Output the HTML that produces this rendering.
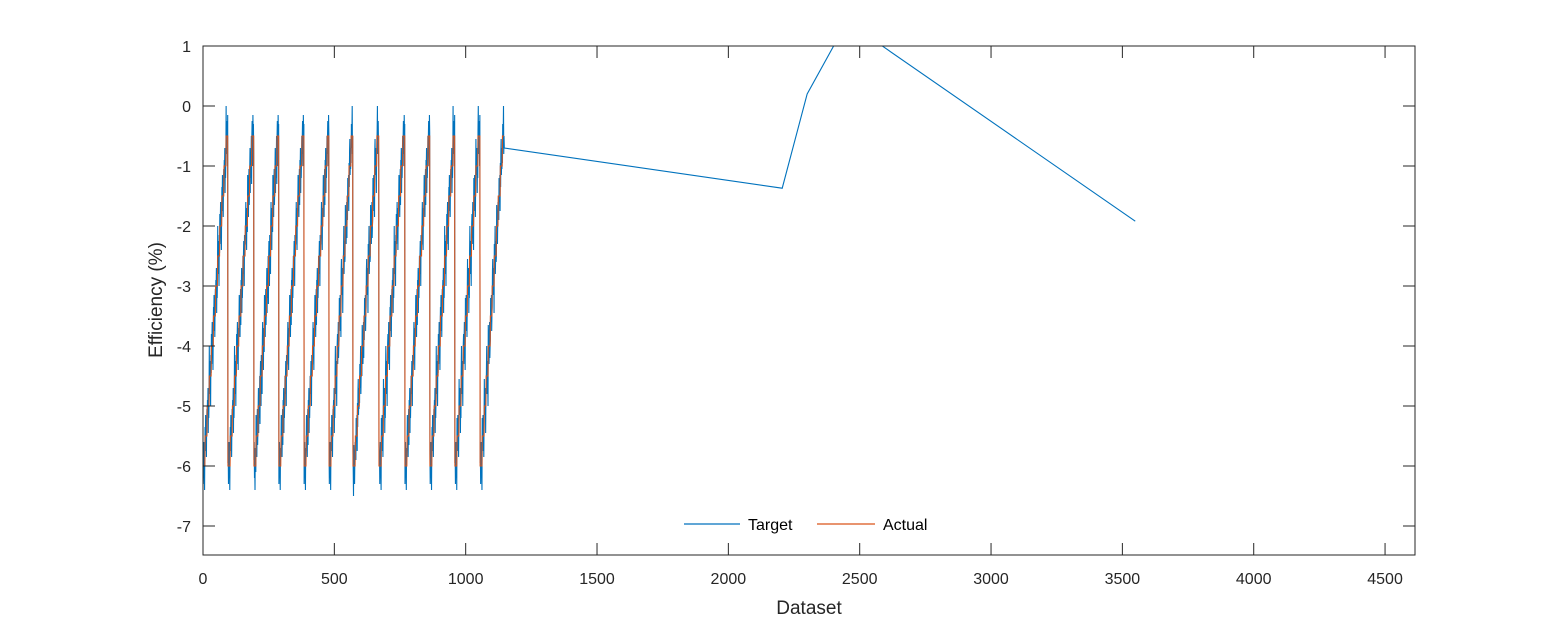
<!DOCTYPE html>
<html><head><meta charset="utf-8"><style>
body{margin:0;background:#fff;}
svg{display:block;font-family:"Liberation Sans",Arial,sans-serif;}
</style></head><body>
<svg id="chart" width="1563" height="625">
<rect x="0" y="0" width="1563" height="625" fill="#fff"/>
<g id="plot"></g>
<rect x="203" y="46" width="1212" height="509" fill="none" stroke="#262626" stroke-width="1"/>
<g id="axes"></g>
<text x="809" y="614" font-size="19" fill="#262626" text-anchor="middle">Dataset</text>
<text transform="translate(162,300) rotate(-90)" font-size="19" fill="#262626" text-anchor="middle">Efficiency (%)</text>
<g>
<line x1="684" y1="524" x2="740" y2="524" stroke="#0072BD" stroke-width="1.2"/>
<text x="748" y="530" font-size="16" fill="#000">Target</text>
<line x1="817" y1="524" x2="875" y2="524" stroke="#D95319" stroke-width="1.2"/>
<text x="883" y="530" font-size="16" fill="#000">Actual</text>
</g>
</svg>
<script>
const xTicks=[0,500,1000,1500,2000,2500,3000,3500,4000,4500];
const yTicks=[1,0,-1,-2,-3,-4,-5,-6,-7];
const cycleStarts=[0,95,194,289,385,480,571,670,769,864,959,1055,1147];
const stepLevels=[-6,-5.5,-5,-4.5,-4,-3.5,-3,-2.5,-2,-1.5,-1,-0.5];
const noise=[0.2,-0.3,0.1,0.4,-0.2,0.0,-0.4,0.3,0.15,-0.1,0.35,-0.25,0.05,-0.35,0.25,0.45,-0.15,0.1,-0.05,0.3,-0.45,0.2,-0.2,0.1,0.5,-0.3,0.0,0.25,-0.1,-0.5,0.35,0.05];
const tailX=[1147,2205,2300,2470,2586,3549];
const tailY=[-0.7,-1.37,0.2,1.55,1.0,-1.92];
const X0=203,X1=1415,XMAX=4614,Y0=46,YTOP=1,YPX=60;
const sx=v=>X0+v*(X1-X0)/XMAX;
const sy=v=>Y0+(YTOP-v)*YPX;
const NS="http://www.w3.org/2000/svg";
const axes=document.getElementById('axes');
function tick(x1,y1,x2,y2,name){
 const l=document.createElementNS(NS,'line');
 l.setAttribute('x1',x1);l.setAttribute('x2',x2);l.setAttribute('y1',y1);l.setAttribute('y2',y2);
 l.setAttribute('stroke','#262626');
 
 
 axes.appendChild(l);
}
xTicks.forEach(t=>{
 tick(sx(t),555,sx(t),543,'x-tick');
 tick(sx(t),46,sx(t),58,'x-tick-top');
 const tx=document.createElementNS(NS,'text');
 tx.setAttribute('x',sx(t));tx.setAttribute('y',584);tx.setAttribute('font-size','16');tx.setAttribute('fill','#262626');tx.setAttribute('text-anchor','middle');
 tx.textContent=t;
 
 
 axes.appendChild(tx);
});
yTicks.forEach(t=>{
 tick(203,sy(t),215,sy(t),'y-tick');
 tick(1403,sy(t),1415,sy(t),'y-tick-right');
 const tx=document.createElementNS(NS,'text');
 tx.setAttribute('x',191);tx.setAttribute('y',sy(t)+6);tx.setAttribute('font-size','16');tx.setAttribute('fill','#262626');tx.setAttribute('text-anchor','end');
 tx.textContent=t;
 
 
 axes.appendChild(tx);
});
const actual=[],target=[];
for(let c=0;c<cycleStarts.length-1;c++){
 const s=cycleStarts[c],e=cycleStarts[c+1],len=e-s;
 for(let i=s;i<e;i++){
  const k=Math.min(stepLevels.length-1,Math.floor((i-s)/len*stepLevels.length));
  actual.push([i,stepLevels[k]]);
  target.push([i,stepLevels[k]+noise[i%noise.length]]);
 }
}
for(let j=0;j<tailX.length;j++) target.push([tailX[j],tailY[j]]);
const plot=document.getElementById('plot');
const clip=document.createElementNS(NS,'clipPath');clip.setAttribute('id','pc');
const cr=document.createElementNS(NS,'rect');cr.setAttribute('x',203);cr.setAttribute('y',46);cr.setAttribute('width',1212);cr.setAttribute('height',509);
clip.appendChild(cr);plot.appendChild(clip);
function line(pts,color,name){
 const p=document.createElementNS(NS,'polyline');
 p.setAttribute('points',pts.map(d=>sx(d[0]).toFixed(2)+','+sy(d[1]).toFixed(2)).join(' '));
 p.setAttribute('fill','none');p.setAttribute('stroke',color);p.setAttribute('stroke-width','1.1');
 p.setAttribute('clip-path','url(#pc)');
 
 
 plot.appendChild(p);
}
line(target,'#0072BD','target-series');
line(actual,'#D95319','actual-series');
</script>
</body></html>
